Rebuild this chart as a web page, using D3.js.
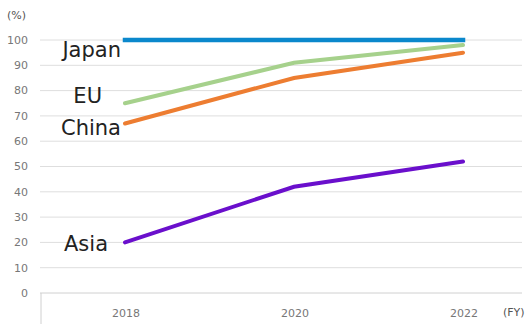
<!DOCTYPE html>
<html>
<head>
<meta charset="utf-8">
<script src="https://cdn.jsdelivr.net/npm/d3@7"></script>
<style>
  body { margin: 0; background: #fff; }
  svg { display: block; font-family: "DejaVu Sans", sans-serif; }
</style>
</head>
<body>
<div id="chart"></div>
<script>
// data
const years = ["2018", "2020", "2022"];
const yTicks = [0, 10, 20, 30, 40, 50, 60, 70, 80, 90, 100];
const japan = [100, 100, 100];
const eu = [75, 91, 98];
const china = [67, 85, 95];
const asia = [20, 42, 52];

const series = [
    { name: "Japan", values: japan, color: "#0b88cc", lx: 121, ly: 57 },
    { name: "EU", values: eu, color: "#a6d18c", lx: 102, ly: 103 },
    { name: "China", values: china, color: "#ed7d31", lx: 121, ly: 135 },
    { name: "Asia", values: asia, color: "#6a0fcc", lx: 108, ly: 251 }
];

const width = 529, height = 324;
const plotLeft = 40, plotRight = 522, plotTop = 40, plotBottom = 293;

const svg = d3.select("#chart").append("svg")
    .attr("width", width)
    .attr("height", height);

const x = d3.scalePoint()
    .domain(years)
    .range([125, 463]);

const y = d3.scaleLinear()
    .domain([0, 100])
    .range([plotBottom, plotTop]);

// gridlines
svg.append("g")
    .selectAll("line")
    .data(yTicks.filter(d => d > 0))
    .enter().append("line")
    .attr("x1", plotLeft)
    .attr("x2", plotRight)
    .attr("y1", d => y(d))
    .attr("y2", d => y(d))
    .attr("stroke", "#dedede")
    .attr("stroke-width", 1);

// baseline + left tick
svg.append("line")
    .attr("x1", plotLeft).attr("x2", plotRight)
    .attr("y1", plotBottom).attr("y2", plotBottom)
    .attr("stroke", "#d0d0d0");
svg.append("line")
    .attr("x1", plotLeft + 1).attr("x2", plotLeft + 1)
    .attr("y1", plotBottom).attr("y2", height)
    .attr("stroke", "#d0d0d0");

// y tick labels
svg.append("g")
    .selectAll("text")
    .data(yTicks)
    .enter().append("text")
    .attr("x", 28)
    .attr("y", d => y(d))
    .attr("dy", "0.35em")
    .attr("text-anchor", "end")
    .attr("font-size", "11px")
    .attr("fill", "#777")
    .text(d => d);

// x tick labels
svg.append("g")
    .selectAll("text")
    .data(years)
    .enter().append("text")
    .attr("x", d => x(d) + 1)
    .attr("y", 317)
    .attr("text-anchor", "middle")
    .attr("font-size", "11px")
    .attr("fill", "#777")
    .text(d => d);

svg.append("text")
    .attr("x", 7).attr("y", 19)
    .attr("font-size", "11px")
    .attr("fill", "#555")
    .text("(%)");

svg.append("text")
    .attr("x", 503).attr("y", 316)
    .attr("font-size", "11px")
    .attr("fill", "#555")
    .text("(FY)");

const line = d3.line()
    .x((d, i) => x(years[i]))
    .y(d => y(d));

svg.append("g")
    .selectAll("path")
    .data(series)
    .enter().append("path")
    .attr("d", d => line(d.values))
    .attr("fill", "none")
    .attr("stroke", d => d.color)
    .attr("stroke-width", d => d.name === "Japan" ? 4.5 : 4)
    .attr("stroke-linecap", d => d.name === "Japan" ? "square" : "round");

// series labels
svg.append("g")
    .selectAll("text")
    .data(series)
    .enter().append("text")
    .attr("x", d => d.lx)
    .attr("y", d => d.ly)
    .attr("text-anchor", "end")
    .attr("font-size", "21px")
    .attr("fill", "#222")
    .text(d => d.name);
</script>
</body>
</html>
